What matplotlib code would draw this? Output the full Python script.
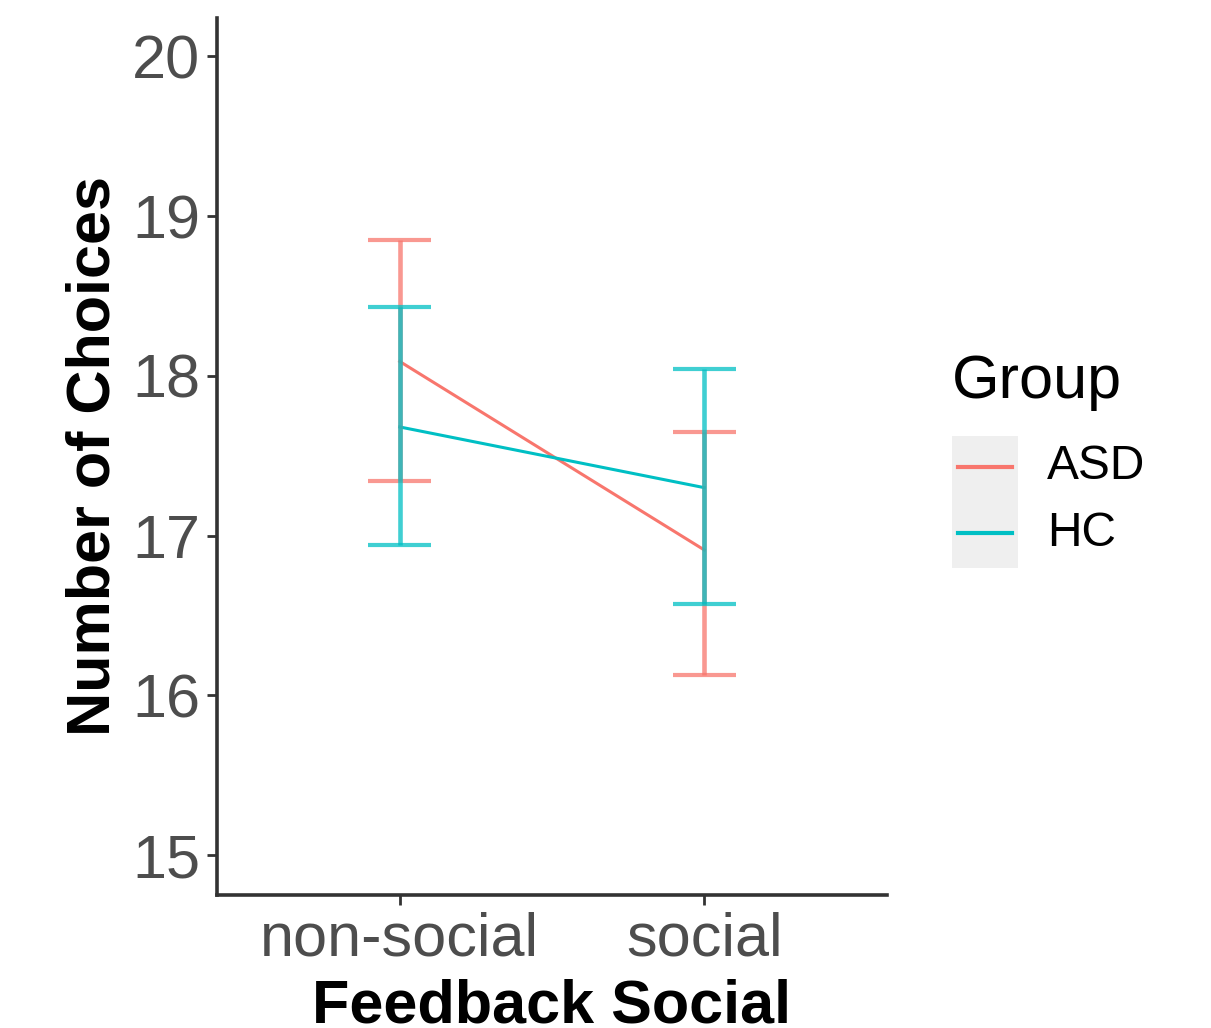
import matplotlib
matplotlib.use("Agg")
import matplotlib.pyplot as plt
from matplotlib.patches import Rectangle
from matplotlib.lines import Line2D

plt.rcParams['font.family'] = ['Liberation Sans', 'DejaVu Sans']

# data
conditions = ["non-social", "social"]
groups = ["ASD", "HC"]
colors = {"ASD": "#F8766D", "HC": "#00BFC4"}
means = {"ASD": [18.09, 16.91], "HC": [17.68, 17.30]}
upper = {"ASD": [18.85, 17.65], "HC": [18.43, 18.04]}
lower = {"ASD": [17.34, 16.13], "HC": [16.94, 16.57]}
yticks = [15, 16, 17, 18, 19, 20]

fig = plt.figure(figsize=(12.11, 10.28), dpi=100)
ax = fig.add_axes([217 / 1211, 1 - 895 / 1028, 670 / 1211, 877 / 1028])

xpos = [1, 2]
for g in groups:
    ax.plot(xpos, means[g], color=colors[g], lw=2.2, zorder=2)
for g in groups:
    for x, lo, hi in zip(xpos, lower[g], upper[g]):
        ax.plot([x, x], [lo, hi], color=colors[g], lw=3.3, alpha=0.75,
                solid_capstyle="butt", zorder=3)
        for y in (lo, hi):
            ax.plot([x - 0.103, x + 0.103], [y, y], color=colors[g], lw=3.0,
                    alpha=0.75, solid_capstyle="butt", zorder=3)

ax.set_xlim(0.4, 2.6)
ax.set_ylim(14.75, 20.24)
ax.set_xticks(xpos)
ax.set_xticklabels(conditions)
ax.set_yticks(yticks)
ax.tick_params(axis="both", labelsize=44, colors="#333333", labelcolor="#4D4D4D",
               length=7, width=2, pad=5)

for side in ("top", "right"):
    ax.spines[side].set_visible(False)
for side in ("left", "bottom"):
    ax.spines[side].set_linewidth(2.6)
    ax.spines[side].set_color("#333333")

ax.set_xlabel("Feedback Social", fontsize=44, fontweight="bold", labelpad=7)
ax.set_ylabel("Number of Choices", fontsize=44, fontweight="bold", labelpad=7)

# legend drawn by hand to get the grey key background
fig.text(952 / 1211, 1 - 398 / 1028, "Group", fontsize=44, color="black",
         ha="left", va="baseline")
fig.patches.append(Rectangle((952 / 1211, 1 - 568 / 1028), 66 / 1211, 132 / 1028,
                             transform=fig.transFigure, facecolor="#EFEFEF",
                             edgecolor="none"))
key_y = [467, 533]
for g, ky in zip(groups, key_y):
    fig.lines.append(Line2D([958 / 1211, 1012 / 1211], [1 - ky / 1028] * 2,
                            transform=fig.transFigure, color=colors[g], lw=3.0))
    fig.text(1047 / 1211, 1 - ky / 1028, g, fontsize=34.5, color="black",
             ha="left", va="center")

fig.savefig("out.png", dpi=100)
